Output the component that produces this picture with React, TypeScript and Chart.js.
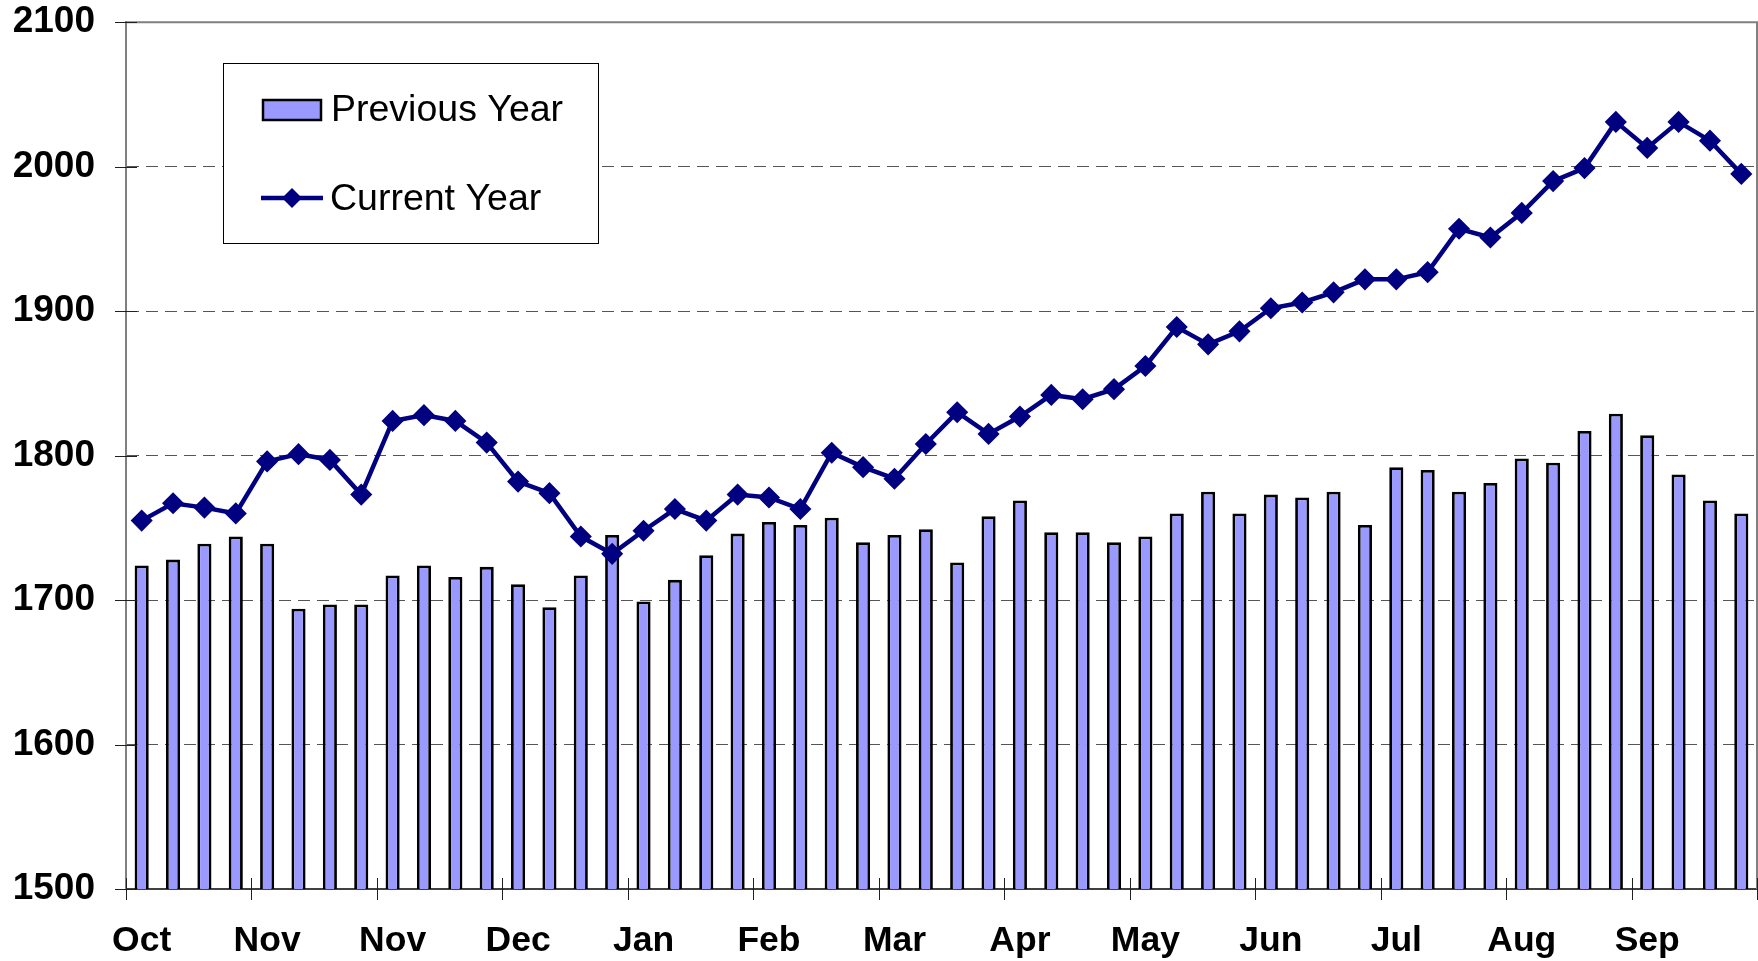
import React, { useEffect, useRef } from "react";
import { Chart, registerables } from "chart.js";

Chart.register(...registerables);

const weeks = [
  "1", "2", "3", "4", "5", "6", "7", "8", "9", "10", "11", "12", "13",
  "14", "15", "16", "17", "18", "19", "20", "21", "22", "23", "24", "25", "26",
  "27", "28", "29", "30", "31", "32", "33", "34", "35", "36", "37", "38", "39",
  "40", "41", "42", "43", "44", "45", "46", "47", "48", "49", "50", "51", "52",
];

const monthTickLabels = ["Oct", "Nov", "Nov", "Dec", "Jan", "Feb", "Mar", "Apr", "May", "Jun", "Jul", "Aug", "Sep"];

const previousYear = [
  1724, 1728, 1739, 1744, 1739, 1694, 1697, 1697, 1717, 1724, 1716, 1723, 1711,
  1695, 1717, 1745, 1699, 1714, 1731, 1746, 1754, 1752, 1757, 1740, 1745, 1749,
  1726, 1758, 1769, 1747, 1747, 1740, 1744, 1760, 1775, 1760, 1773, 1771, 1775,
  1752, 1792, 1790, 1775, 1781, 1798, 1795, 1817, 1829, 1814, 1787, 1769, 1760,
];

const currentYear = [
  1755, 1767, 1764, 1760, 1796, 1801, 1797, 1773, 1824, 1828, 1824, 1809, 1782,
  1774, 1744, 1732, 1748, 1763, 1755, 1773, 1771, 1763, 1802, 1792, 1784, 1808,
  1830, 1815, 1827, 1842, 1839, 1846, 1862, 1889, 1877, 1886, 1902, 1906, 1913,
  1922, 1922, 1927, 1957, 1951, 1968, 1990, 1999, 2031, 2013, 2031, 2018, 1995,
];

const yTickValues = [1500, 1600, 1700, 1800, 1900, 2000, 2100];

const FONT = "Arial, 'Liberation Sans', Helvetica, sans-serif";
const BAR_FILL = "#9999FF";
const LINE_COLOR = "#000080";
const TRANSPARENT = "rgba(0,0,0,0)";

const framePlugin = {
  id: "frame",
  afterDraw(chart: any) {
    const { ctx, chartArea } = chart;
    const { left, right, top, bottom } = chartArea;
    ctx.save();
    // top and right border
    ctx.strokeStyle = "#808080";
    ctx.lineWidth = 2;
    ctx.beginPath();
    ctx.moveTo(left, top);
    ctx.lineTo(right, top);
    ctx.lineTo(right, bottom);
    ctx.stroke();
    // tick marks crossing the y axis
    const ys = chart.scales.y;
    ctx.strokeStyle = "#202020";
    ctx.lineWidth = 1;
    ctx.beginPath();
    yTickValues.forEach((v) => {
      const py = Math.round(ys.getPixelForValue(v)) + 0.5;
      ctx.moveTo(left - 11, py);
      ctx.lineTo(left + 11, py);
    });
    ctx.stroke();
    // tick marks crossing the x axis, every 4 weeks
    const n = weeks.length;
    const w = (right - left) / n;
    ctx.beginPath();
    for (let i = 0; i <= n; i += 4) {
      const px = Math.round(left + i * w) + 0.5;
      ctx.moveTo(px, bottom - 11);
      ctx.lineTo(px, bottom + 11);
    }
    ctx.stroke();

    // legend box
    const bx = 223, by = 63, bw = 375, bh = 180;
    ctx.fillStyle = "#ffffff";
    ctx.fillRect(bx, by, bw, bh);
    ctx.strokeStyle = "#000000";
    ctx.lineWidth = 1;
    ctx.strokeRect(bx + 0.5, by + 0.5, bw, bh);
    // bar swatch
    ctx.fillStyle = BAR_FILL;
    ctx.fillRect(263, 100, 58, 20);
    ctx.strokeStyle = "#000000";
    ctx.lineWidth = 2.5;
    ctx.strokeRect(263, 100, 58, 20);
    // line swatch
    ctx.strokeStyle = LINE_COLOR;
    ctx.lineWidth = 4.5;
    ctx.beginPath();
    ctx.moveTo(261, 198);
    ctx.lineTo(323, 198);
    ctx.stroke();
    ctx.fillStyle = LINE_COLOR;
    ctx.beginPath();
    ctx.moveTo(292 - 10, 198);
    ctx.lineTo(292, 198 - 10);
    ctx.lineTo(292 + 10, 198);
    ctx.lineTo(292, 198 + 10);
    ctx.closePath();
    ctx.fill();
    // legend text
    ctx.fillStyle = "#000000";
    ctx.font = `37.5px ${FONT}`;
    ctx.textBaseline = "middle";
    ctx.textAlign = "left";
    ctx.fillText("Previous Year", 331, 111);
    ctx.fillText("Current Year", 330, 200);
    ctx.restore();
  },
};

export default function App() {
  const canvasRef = useRef<HTMLCanvasElement | null>(null);

  useEffect(() => {
    document.body.style.margin = "0";
    const canvas = canvasRef.current;
    if (!canvas) return;
    const chart = new Chart(canvas, {
      type: "bar",
      data: {
        labels: weeks,
        datasets: [
          {
            type: "line",
            label: "Current Year",
            data: currentYear,
            borderColor: LINE_COLOR,
            backgroundColor: LINE_COLOR,
            borderWidth: 4.5,
            pointStyle: "rectRot",
            pointRadius: 10,
            pointBorderWidth: 1.5,
            pointBackgroundColor: LINE_COLOR,
            pointBorderColor: LINE_COLOR,
            tension: 0,
            clip: false,
            order: 1,
          },
          {
            type: "bar",
            label: "Previous Year",
            data: previousYear,
            backgroundColor: BAR_FILL,
            borderColor: "#000000",
            borderWidth: 2.8,
            barPercentage: 0.45,
            categoryPercentage: 1,
            order: 2,
          },
        ],
      },
      options: {
        animation: false,
        responsive: false,
        maintainAspectRatio: false,
        layout: { autoPadding: false, padding: { top: 20, right: 1, left: 0, bottom: 0 } },
        plugins: {
          legend: { display: false },
          tooltip: { enabled: false },
        },
        scales: {
          x: {
            offset: true,
            grid: {
              offset: true,
              drawOnChartArea: false,
              drawTicks: true,
              tickLength: 31,
              color: TRANSPARENT,
              tickColor: TRANSPARENT,
            },
            border: { display: true, color: "#404040", width: 2 },
            ticks: {
              autoSkip: false,
              maxRotation: 0,
              minRotation: 0,
              padding: 0,
              color: "#000000",
              font: { family: FONT, size: 35.5, weight: "bold" },
              callback: (_v: any, index: number) =>
                index % 4 === 0 ? monthTickLabels[index / 4] : "",
            },
            afterFit: (scale: any) => {
              scale.height = 72;
              scale.paddingLeft = 0;
              scale.paddingRight = 0;
            },
          },
          y: {
            min: 1500,
            max: 2100,
            afterBuildTicks: (scale: any) => {
              scale.ticks = yTickValues.map((v) => ({ value: v }));
            },
            grid: {
              drawTicks: true,
              tickLength: 31,
              color: (c: any) =>
                c.tick && (c.tick.value === 2100 || c.tick.value === 1500)
                  ? TRANSPARENT
                  : "#555555",
              tickColor: TRANSPARENT,
              lineWidth: 1,
            },
            border: { display: true, color: "#808080", width: 2, dash: [12, 7] },
            ticks: {
              padding: 0,
              color: "#000000",
              font: { family: FONT, size: 37, weight: "bold" },
              callback: (v: any) => String(v),
            },
            afterFit: (scale: any) => {
              scale.width = 126;
            },
          },
        },
      },
      plugins: [framePlugin],
    });
    return () => chart.destroy();
  }, []);

  return (
    <div style={{ position: "relative", width: 1758, height: 961, background: "#ffffff" }}>
      <canvas ref={canvasRef} width={1758} height={961} style={{ display: "block" }} />
    </div>
  );
}
